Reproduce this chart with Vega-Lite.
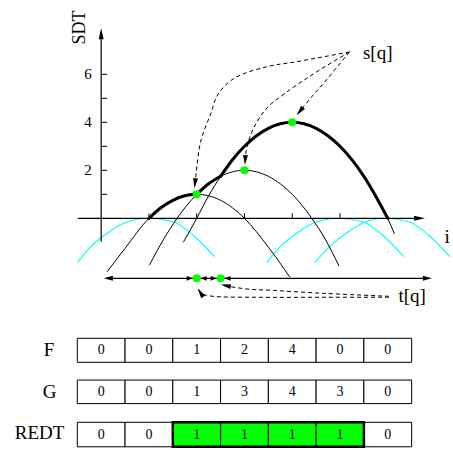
{
  "$schema": "https://vega.github.io/schema/vega-lite/v6.json",
  "width": 453,
  "height": 450,
  "autosize": {"type": "fit", "contains": "padding"},
  "padding": 0,
  "background": "white",
  "config": {"view": {"stroke": null}, "text": {"font": "Liberation Serif", "color": "black"}},
  "datasets": {
    "cyan": [
      {"arc": "L", "x": -0.495, "y": -1.85}, {"arc": "L", "x": -0.22, "y": -1.183}, {"arc": "L", "x": 0.126, "y": -0.625}, {"arc": "L", "x": 0.472, "y": -0.208}, {"arc": "L", "x": 0.99, "y": 0}, {"arc": "L", "x": 1.507, "y": -0.142}, {"arc": "L", "x": 1.921, "y": -0.696}, {"arc": "L", "x": 2.368, "y": -1.6},
      {"arc": "R1", "x": 3.472, "y": -1.85}, {"arc": "R1", "x": 3.747, "y": -1.183}, {"arc": "R1", "x": 4.093, "y": -0.625}, {"arc": "R1", "x": 4.439, "y": -0.208}, {"arc": "R1", "x": 4.957, "y": 0}, {"arc": "R1", "x": 5.474, "y": -0.142}, {"arc": "R1", "x": 5.888, "y": -0.696}, {"arc": "R1", "x": 6.335, "y": -1.6},
      {"arc": "R2", "x": 4.472, "y": -1.85}, {"arc": "R2", "x": 4.783, "y": -1.183}, {"arc": "R2", "x": 5.128, "y": -0.625}, {"arc": "R2", "x": 5.474, "y": -0.208}, {"arc": "R2", "x": 5.921, "y": 0}, {"arc": "R2", "x": 6.439, "y": -0.142}, {"arc": "R2", "x": 6.853, "y": -0.696}, {"arc": "R2", "x": 7.3, "y": -1.6}
    ],
    "curves": [
      {"c": "A", "x": 0.124, "y": -2.23}, {"c": "A", "x": 0.5, "y": -1.25}, {"c": "A", "x": 1, "y": 0}, {"c": "A", "x": 1.5, "y": 0.75}, {"c": "A", "x": 2, "y": 1}, {"c": "A", "x": 2.5, "y": 0.75}, {"c": "A", "x": 3, "y": 0}, {"c": "A", "x": 3.5, "y": -1.2}, {"c": "A", "x": 3.95, "y": -2.45},
      {"c": "B", "x": 1.01, "y": -1.95}, {"c": "B", "x": 1.3, "y": -0.9}, {"c": "B", "x": 1.59, "y": 0}, {"c": "B", "x": 2, "y": 1}, {"c": "B", "x": 2.5, "y": 1.75}, {"c": "B", "x": 3, "y": 2}, {"c": "B", "x": 3.5, "y": 1.75}, {"c": "B", "x": 4, "y": 1}, {"c": "B", "x": 4.41, "y": 0}, {"c": "B", "x": 4.7, "y": -0.9}, {"c": "B", "x": 4.98, "y": -1.99},
      {"c": "C", "x": 1.72, "y": -1.0}, {"c": "C", "x": 2, "y": 0}, {"c": "C", "x": 2.25, "y": 0.94}, {"c": "C", "x": 2.5, "y": 1.75}, {"c": "C", "x": 3, "y": 3}, {"c": "C", "x": 3.5, "y": 3.75}, {"c": "C", "x": 4, "y": 4}, {"c": "C", "x": 4.5, "y": 3.75}, {"c": "C", "x": 5, "y": 3}, {"c": "C", "x": 5.5, "y": 1.75}, {"c": "C", "x": 6, "y": 0}, {"c": "C", "x": 6.14, "y": -0.65}
    ],
    "envelope": [
      {"seg": 1, "x": 1, "y": 0}, {"seg": 1, "x": 1.25, "y": 0.44}, {"seg": 1, "x": 1.5, "y": 0.75}, {"seg": 1, "x": 1.75, "y": 0.94}, {"seg": 1, "x": 2, "y": 1},
      {"seg": 2, "x": 2, "y": 1}, {"seg": 2, "x": 2.25, "y": 1.44}, {"seg": 2, "x": 2.5, "y": 1.75},
      {"seg": 3, "x": 2.5, "y": 1.75}, {"seg": 3, "x": 2.75, "y": 2.44}, {"seg": 3, "x": 3, "y": 3}, {"seg": 3, "x": 3.5, "y": 3.75}, {"seg": 3, "x": 4, "y": 4}, {"seg": 3, "x": 4.5, "y": 3.75}, {"seg": 3, "x": 5, "y": 3}, {"seg": 3, "x": 5.5, "y": 1.75}, {"seg": 3, "x": 6, "y": 0}
    ],
    "axes": [
      {"id": "xaxis", "x": -0.49, "y": 0}, {"id": "xaxis", "x": 6.7, "y": 0},
      {"id": "yaxis", "x": 0, "y": -0.97}, {"id": "yaxis", "x": 0, "y": 7.75},
      {"id": "span", "x": 0.1, "y": -2.5}, {"id": "span", "x": 6.85, "y": -2.5}
    ],
    "ticks": [
      {"ax": "x", "x": 1, "y": 0}, {"ax": "x", "x": 2, "y": 0}, {"ax": "x", "x": 3, "y": 0}, {"ax": "x", "x": 4, "y": 0}, {"ax": "x", "x": 5, "y": 0},
      {"ax": "y", "x": 0, "y": 1}, {"ax": "y", "x": 0, "y": 2}, {"ax": "y", "x": 0, "y": 3}, {"ax": "y", "x": 0, "y": 4}, {"ax": "y", "x": 0, "y": 5}, {"ax": "y", "x": 0, "y": 6}
    ],
    "dashed": [
      {"p": "S1", "k": 0, "x": 5.197, "y": 6.93}, {"p": "S1", "k": 1, "x": 4.093, "y": 6.525}, {"p": "S1", "k": 2, "x": 3.472, "y": 6.317}, {"p": "S1", "k": 3, "x": 2.783, "y": 5.833}, {"p": "S1", "k": 4, "x": 2.437, "y": 5.137}, {"p": "S1", "k": 5, "x": 2.298, "y": 4.375}, {"p": "S1", "k": 6, "x": 2.091, "y": 3.263}, {"p": "S1", "k": 7, "x": 1.988, "y": 1.875}, {"p": "S1", "k": 8, "x": 1.96, "y": 1.3},
      {"p": "S2", "k": 0, "x": 5.197, "y": 6.93}, {"p": "S2", "k": 1, "x": 4.507, "y": 6.096}, {"p": "S2", "k": 2, "x": 3.886, "y": 5.263}, {"p": "S2", "k": 3, "x": 3.472, "y": 4.596}, {"p": "S2", "k": 4, "x": 3.224, "y": 3.888}, {"p": "S2", "k": 5, "x": 3.079, "y": 3.179}, {"p": "S2", "k": 6, "x": 3.023, "y": 2.638}, {"p": "S2", "k": 7, "x": 3.012, "y": 2.3},
      {"p": "S3", "k": 0, "x": 5.197, "y": 6.93}, {"p": "S3", "k": 1, "x": 4.714, "y": 5.763}, {"p": "S3", "k": 2, "x": 4.404, "y": 5.054}, {"p": "S3", "k": 3, "x": 4.11, "y": 4.34},
      {"p": "T1", "k": 0, "x": 6.025, "y": -3.25}, {"p": "T1", "k": 1, "x": 4.646, "y": -3.125}, {"p": "T1", "k": 2, "x": 3.472, "y": -2.99}, {"p": "T1", "k": 3, "x": 3.126, "y": -2.96}, {"p": "T1", "k": 4, "x": 2.712, "y": -2.85}, {"p": "T1", "k": 5, "x": 2.52, "y": -2.77},
      {"p": "T2", "k": 0, "x": 6.025, "y": -3.29}, {"p": "T2", "k": 1, "x": 4.646, "y": -3.29}, {"p": "T2", "k": 2, "x": 3.265, "y": -3.29}, {"p": "T2", "k": 3, "x": 2.298, "y": -3.24}, {"p": "T2", "k": 4, "x": 2.091, "y": -3.125}, {"p": "T2", "k": 5, "x": 2.03, "y": -2.95}
    ],
    "heads": [
      {"kind": "axis", "x": 0, "y": 7.92, "dir": 270}, {"kind": "axis", "x": 6.78, "y": 0, "dir": 0},
      {"kind": "span", "x": 0.056, "y": -2.5, "dir": 180}, {"kind": "span", "x": 6.923, "y": -2.5, "dir": 0},
      {"kind": "mark", "x": 1.917, "y": -2.5, "dir": 0}, {"kind": "mark", "x": 2.083, "y": -2.5, "dir": 180}, {"kind": "mark", "x": 2.417, "y": -2.5, "dir": 0}, {"kind": "mark", "x": 2.583, "y": -2.5, "dir": 180},
      {"kind": "dash", "x": 1.954, "y": 1.25, "dir": 96}, {"kind": "dash", "x": 3.01, "y": 2.22, "dir": 93}, {"kind": "dash", "x": 4.093, "y": 4.3, "dir": 130}, {"kind": "dash", "x": 2.505, "y": -2.76, "dir": 192}, {"kind": "dash", "x": 2.023, "y": -2.92, "dir": 237}
    ],
    "dots": [
      {"x": 2, "y": 1}, {"x": 3, "y": 2}, {"x": 4, "y": 4}, {"x": 2, "y": -2.5}, {"x": 2.5, "y": -2.5}
    ],
    "ticklabels": [
      {"t": "6", "x": -0.275, "y": 6}, {"t": "4", "x": -0.275, "y": 4}, {"t": "2", "x": -0.275, "y": 2}
    ],
    "names": [
      {"t": "s[q]", "x": 5.79, "y": 6.9}, {"t": "t[q]", "x": 6.51, "y": -3.24}
    ],
    "cols": [
      {"i": 0, "x0": -0.5, "x1": 0.5}, {"i": 1, "x0": 0.5, "x1": 1.5}, {"i": 2, "x0": 1.5, "x1": 2.5}, {"i": 3, "x0": 2.5, "x1": 3.5}, {"i": 4, "x0": 3.5, "x1": 4.5}, {"i": 5, "x0": 4.5, "x1": 5.5}, {"i": 6, "x0": 5.5, "x1": 6.5}
    ],
    "rows": [
      {"row": "F", "y0": -6.0, "y1": -5.0, "ym": -5.5, "lx": -1.09, "ly": -5.5},
      {"row": "G", "y0": -7.72, "y1": -6.74, "ym": -7.23, "lx": -1.08, "ly": -7.22},
      {"row": "REDT", "y0": -9.52, "y1": -8.5, "ym": -9.01, "lx": -1.29, "ly": -8.96}
    ],
    "cells": [
      {"row": "F", "i": 0, "v": 0}, {"row": "F", "i": 1, "v": 0}, {"row": "F", "i": 2, "v": 1}, {"row": "F", "i": 3, "v": 2}, {"row": "F", "i": 4, "v": 4}, {"row": "F", "i": 5, "v": 0}, {"row": "F", "i": 6, "v": 0},
      {"row": "G", "i": 0, "v": 0}, {"row": "G", "i": 1, "v": 0}, {"row": "G", "i": 2, "v": 1}, {"row": "G", "i": 3, "v": 3}, {"row": "G", "i": 4, "v": 4}, {"row": "G", "i": 5, "v": 3}, {"row": "G", "i": 6, "v": 0},
      {"row": "REDT", "i": 0, "v": 0}, {"row": "REDT", "i": 1, "v": 0}, {"row": "REDT", "i": 2, "v": 1}, {"row": "REDT", "i": 3, "v": 1}, {"row": "REDT", "i": 4, "v": 1}, {"row": "REDT", "i": 5, "v": 1}, {"row": "REDT", "i": 6, "v": 0}
    ]
  },
  "encoding": {
    "x": {"field": "x", "type": "quantitative", "scale": {"domain": [-2.118, 7.261], "nice": false, "zero": false}, "axis": null},
    "y": {"field": "y", "type": "quantitative", "scale": {"domain": [-9.654, 9.096], "nice": false, "zero": false}, "axis": null}
  },
  "layer": [
    {
      "data": {"name": "cyan"},
      "mark": {"type": "line", "color": "#00ffff", "strokeWidth": 1.1, "interpolate": "monotone"},
      "encoding": {"detail": {"field": "arc"}}
    },
    {
      "data": {"name": "curves"},
      "mark": {"type": "line", "color": "black", "strokeWidth": 1, "interpolate": "monotone"},
      "encoding": {"detail": {"field": "c"}}
    },
    {
      "data": {"name": "axes"},
      "mark": {"type": "line", "color": "black", "strokeWidth": 1.2},
      "encoding": {"detail": {"field": "id"}}
    },
    {
      "data": {"name": "ticks"},
      "transform": [{"filter": "datum.ax === 'x'"}],
      "mark": {"type": "point", "shape": "M0,0L0,-1", "filled": false, "color": "black", "strokeWidth": 1, "size": 100, "opacity": 1}
    },
    {
      "data": {"name": "ticks"},
      "transform": [{"filter": "datum.ax === 'y'"}],
      "mark": {"type": "point", "shape": "M0,0L1,0", "filled": false, "color": "black", "strokeWidth": 1, "size": 144, "opacity": 1}
    },
    {
      "data": {"name": "envelope"},
      "mark": {"type": "line", "color": "black", "strokeWidth": 3, "interpolate": "monotone", "strokeCap": "round"},
      "encoding": {"detail": {"field": "seg"}}
    },
    {
      "data": {"name": "dashed"},
      "mark": {"type": "line", "color": "black", "strokeWidth": 1, "strokeDash": [4, 3], "interpolate": "catmull-rom"},
      "encoding": {"detail": {"field": "p"}, "order": {"field": "k", "type": "quantitative"}}
    },
    {
      "data": {"name": "heads"},
      "transform": [{"filter": "datum.kind === 'axis'"}],
      "mark": {"type": "point", "shape": "M0,0L-2,-0.45L-2,0.45Z", "filled": true, "color": "black", "size": 121, "opacity": 1},
      "encoding": {"angle": {"field": "dir", "type": "quantitative", "scale": null}}
    },
    {
      "data": {"name": "heads"},
      "transform": [{"filter": "datum.kind === 'span'"}],
      "mark": {"type": "point", "shape": "M0,0L-2,-0.55L-2,0.55Z", "filled": true, "color": "black", "size": 81, "opacity": 1},
      "encoding": {"angle": {"field": "dir", "type": "quantitative", "scale": null}}
    },
    {
      "data": {"name": "heads"},
      "transform": [{"filter": "datum.kind === 'mark'"}],
      "mark": {"type": "point", "shape": "M0,0L-2,-0.8L-2,0.8Z", "filled": true, "color": "black", "size": 36, "opacity": 1},
      "encoding": {"angle": {"field": "dir", "type": "quantitative", "scale": null}}
    },
    {
      "data": {"name": "heads"},
      "transform": [{"filter": "datum.kind === 'dash'"}],
      "mark": {"type": "point", "shape": "M0,0L-2,-0.5L-2,0.5Z", "filled": true, "color": "black", "size": 100, "opacity": 1},
      "encoding": {"angle": {"field": "dir", "type": "quantitative", "scale": null}}
    },
    {
      "data": {"name": "dots"},
      "mark": {"type": "circle", "color": "#00ff00", "size": 64, "opacity": 1}
    },
    {
      "data": {"name": "ticklabels"},
      "mark": {"type": "text", "fontSize": 15, "align": "center", "baseline": "middle"},
      "encoding": {"text": {"field": "t"}}
    },
    {
      "data": {"name": "names"},
      "mark": {"type": "text", "fontSize": 19, "align": "center", "baseline": "middle"},
      "encoding": {"text": {"field": "t"}}
    },
    {
      "data": {"values": [{"t": "i", "x": 7.19, "y": -0.78}]},
      "mark": {"type": "text", "fontSize": 19, "align": "left", "baseline": "middle"},
      "encoding": {"text": {"field": "t"}}
    },
    {
      "data": {"values": [{"t": "SDT", "x": -0.45, "y": 7.95}]},
      "mark": {"type": "text", "fontSize": 18, "align": "center", "baseline": "middle", "angle": 270},
      "encoding": {"text": {"field": "t"}}
    },
    {
      "data": {"name": "cells"},
      "transform": [
        {"lookup": "row", "from": {"data": {"name": "rows"}, "key": "row", "fields": ["y0", "y1", "ym"]}},
        {"lookup": "i", "from": {"data": {"name": "cols"}, "key": "i", "fields": ["x0", "x1"]}}
      ],
      "mark": {"type": "rect", "stroke": "black", "strokeWidth": 1},
      "encoding": {
        "x": {"field": "x0", "type": "quantitative"},
        "x2": {"field": "x1"},
        "y": {"field": "y0", "type": "quantitative"},
        "y2": {"field": "y1"},
        "fill": {"condition": {"test": "datum.row === 'REDT' && datum.v === 1", "value": "#00ff00"}, "value": "white"}
      }
    },
    {
      "data": {"name": "cells"},
      "transform": [
        {"filter": "datum.row === 'REDT' && datum.v === 1"},
        {"lookup": "row", "from": {"data": {"name": "rows"}, "key": "row", "fields": ["y0", "y1"]}},
        {"lookup": "i", "from": {"data": {"name": "cols"}, "key": "i", "fields": ["x0", "x1"]}},
        {"aggregate": [
          {"op": "min", "field": "x0", "as": "bx0"},
          {"op": "max", "field": "x1", "as": "bx1"},
          {"op": "min", "field": "y0", "as": "by0"},
          {"op": "max", "field": "y1", "as": "by1"}
        ]}
      ],
      "mark": {"type": "rect", "fill": null, "fillOpacity": 0, "stroke": "black", "strokeWidth": 2.5},
      "encoding": {
        "x": {"field": "bx0", "type": "quantitative"},
        "x2": {"field": "bx1"},
        "y": {"field": "by0", "type": "quantitative"},
        "y2": {"field": "by1"}
      }
    },
    {
      "data": {"name": "cells"},
      "transform": [
        {"lookup": "row", "from": {"data": {"name": "rows"}, "key": "row", "fields": ["ym"]}}
      ],
      "mark": {"type": "text", "fontSize": 14, "align": "center", "baseline": "middle"},
      "encoding": {
        "x": {"field": "i", "type": "quantitative"},
        "y": {"field": "ym", "type": "quantitative"},
        "text": {"field": "v"}
      }
    },
    {
      "data": {"name": "rows"},
      "mark": {"type": "text", "fontSize": 19, "align": "center", "baseline": "middle"},
      "encoding": {
        "x": {"field": "lx", "type": "quantitative"},
        "y": {"field": "ly", "type": "quantitative"},
        "text": {"field": "row"}
      }
    }
  ]
}
